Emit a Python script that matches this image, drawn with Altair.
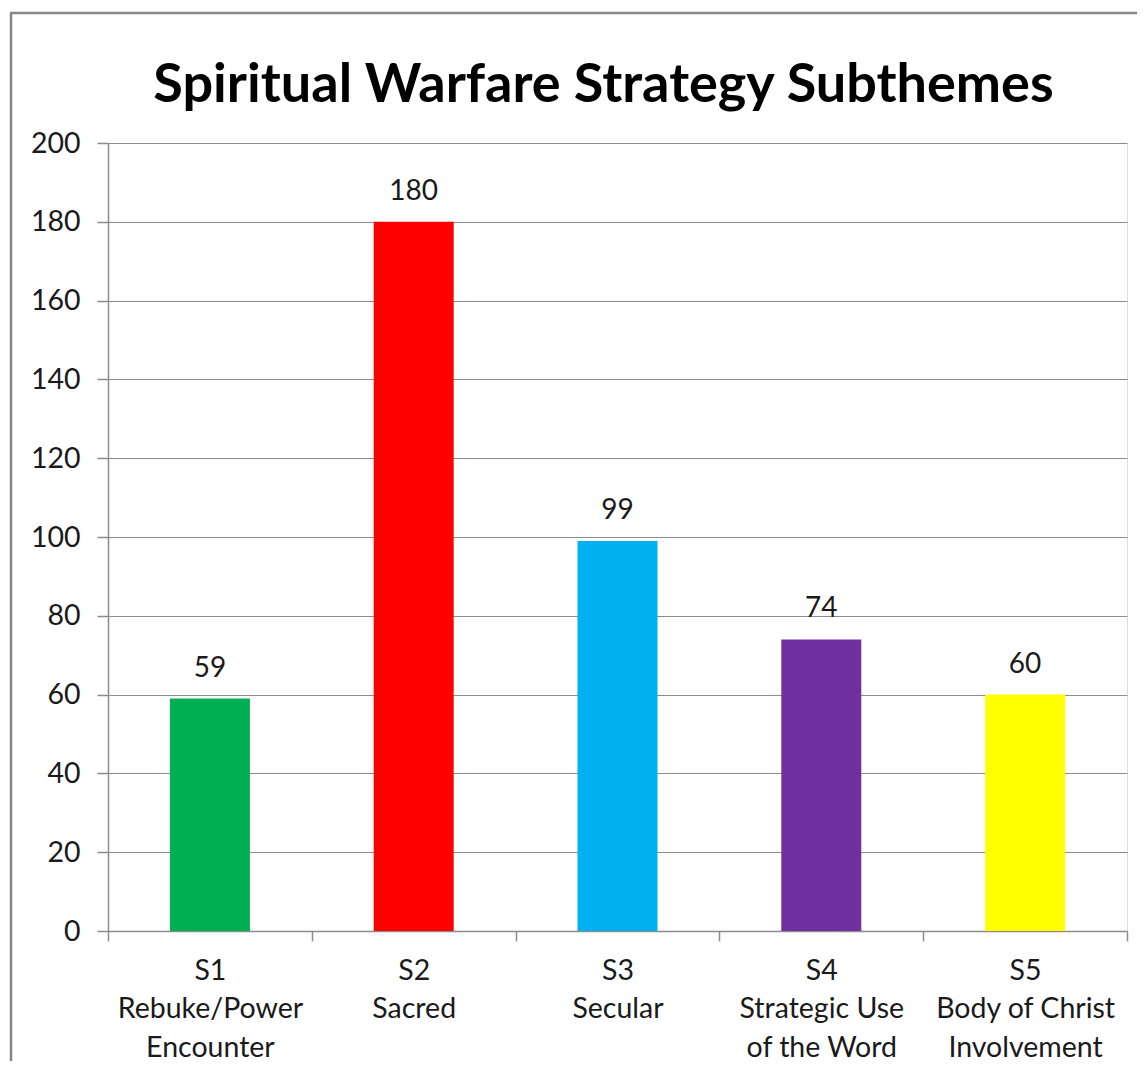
import altair as alt
import pandas as pd

codes = ["S1", "S2", "S3", "S4", "S5"]
names = ["Rebuke/Power|Encounter", "Sacred", "Secular", "Strategic Use|of the Word", "Body of Christ|Involvement"]
values = [59, 180, 99, 74, 60]
colors = ["#00B050", "#FF0000", "#00B0F0", "#7030A0", "#FFFF00"]

df = pd.DataFrame({
    "cat": [c + "|" + n for c, n in zip(codes, names)],
    "value": values,
    "color": colors,
})
order = list(df["cat"])

FONT = "Lato"
W, H = 1019, 788

base = alt.Chart(df)

bars = base.mark_bar(size=80).encode(
    x=alt.X("cat:N", sort=order, title=None,
            scale=alt.Scale(paddingInner=0, paddingOuter=0),
            axis=alt.Axis(labelExpr="split(datum.label, '|')", labelAngle=0,
                          labelFont=FONT, labelFontSize=28.5, labelColor="#1a1a1a",
                          labelLineHeight=38.5, labelBaseline="top", labelPadding=15,
                          labelLimit=400,
                          tickBand="extent", tickSize=10, tickColor="#8c8c8c",
                          domainColor="#8c8c8c", domainWidth=1.5, tickWidth=1.5,
                          grid=False)),
    y=alt.Y("value:Q", title=None,
            scale=alt.Scale(domain=[0, 200], nice=False),
            axis=alt.Axis(values=list(range(0, 201, 20)), labelFont=FONT, labelFontSize=28.5,
                          labelColor="#1a1a1a", labelPadding=17, tickSize=11,
                          tickColor="#8c8c8c", domainColor="#8c8c8c", domainWidth=1.5,
                          tickWidth=1.5, grid=True, gridColor="#8c8c8c", gridWidth=1.2)),
    color=alt.Color("color:N", scale=None),
)

labels = base.mark_text(font=FONT, fontSize=28, color="#1a1a1a", baseline="alphabetic", dy=-22).encode(
    x=alt.X("cat:N", sort=order),
    y=alt.Y("value:Q"),
    text=alt.Text("value:Q"),
)

frame_df = pd.DataFrame({"k": [0]})
left_border = alt.Chart(frame_df).mark_rule(color="#868686", strokeWidth=2.5).encode(
    x=alt.value(-97), y=alt.value(-130), y2=alt.value(H + 200)
)
top_border = alt.Chart(frame_df).mark_rule(color="#868686", strokeWidth=2.5).encode(
    x=alt.value(-98), x2=alt.value(W + 200), y=alt.value(-130)
)

chart = alt.layer(bars, labels, left_border, top_border).properties(
    width=W, height=H,
    title=alt.TitleParams("Spiritual Warfare Strategy Subthemes", font=FONT, fontSize=54,
                          fontWeight="bold", color="#000000", anchor="middle",
                          baseline="alphabetic", offset=-144, dx=-14),
    autosize=alt.AutoSizeParams(type="none"),
    padding={"left": 100, "top": 135, "right": 10, "bottom": 130},
).configure_view(stroke=None).configure(background="white")

chart.save("out.html", embed_options={"renderer": "svg", "actions": False})
